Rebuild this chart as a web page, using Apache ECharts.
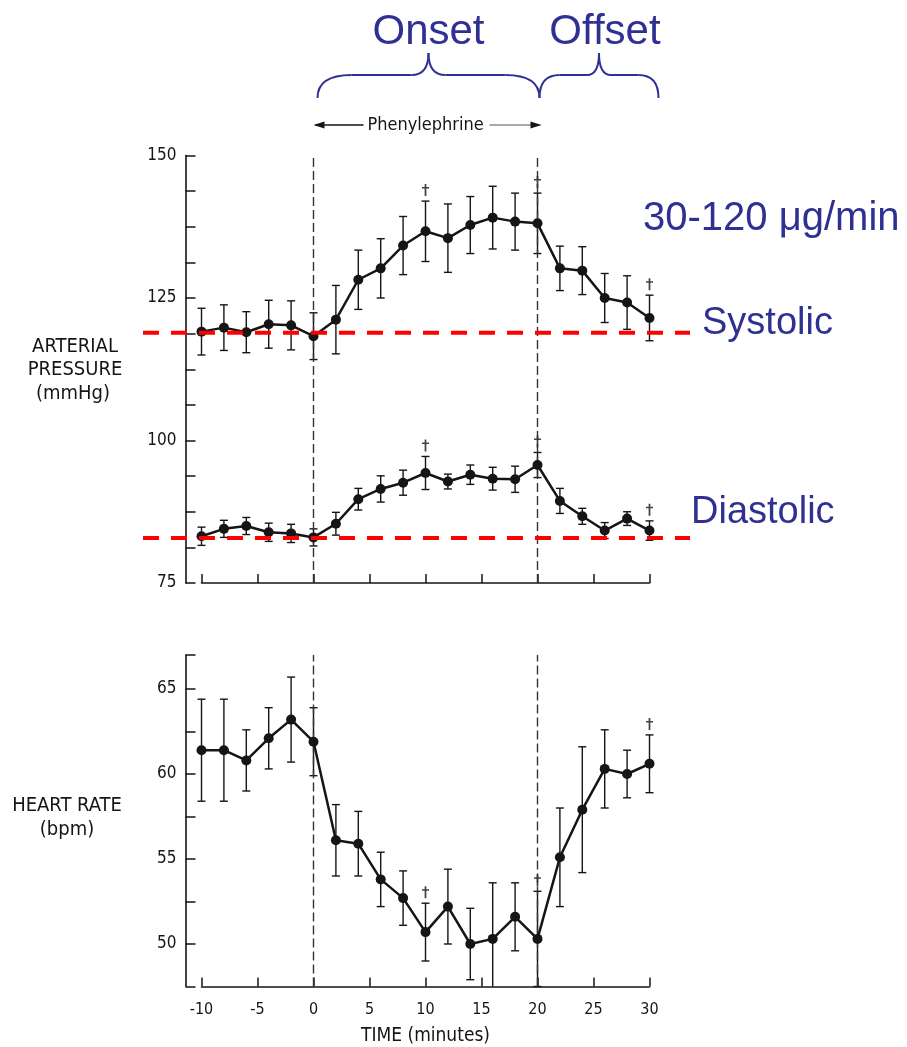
<!DOCTYPE html>
<html>
<head>
<meta charset="utf-8">
<script src="https://cdn.jsdelivr.net/npm/echarts@6/dist/echarts.min.js"></script>
<style>
  html, body { margin: 0; padding: 0; background: #ffffff; }
  #chart { width: 907px; height: 1047px; }
</style>
</head>
<body>
<div id="chart"></div>
<script>
// Time points (minutes relative to start of phenylephrine infusion)
const minutes = [-10, -8, -6, -4, -2, 0, 2, 4, 6, 8, 10, 12, 14, 16, 18, 20, 22, 24, 26, 28, 30];

// Arterial pressure (mmHg), mean and SEM
const systolic = [119.1, 119.8, 119.0, 120.4, 120.2, 118.3, 121.2, 128.2, 130.2, 134.2, 136.7, 135.5, 137.8, 139.1, 138.4, 138.1, 130.2, 129.8, 125.0, 124.2, 121.5];
const systolicSem = [4.1, 4.0, 3.6, 4.2, 4.3, 4.1, 6.0, 5.2, 5.2, 5.1, 5.3, 6.0, 5.0, 5.5, 5.0, 5.3, 3.9, 4.2, 4.3, 4.7, 4.0];
const diastolic = [83.2, 84.5, 85.0, 83.9, 83.7, 83.0, 85.4, 89.7, 91.5, 92.6, 94.3, 92.8, 94.0, 93.3, 93.2, 95.7, 89.4, 86.7, 84.2, 86.3, 84.2];
const diastolicSem = [1.6, 1.5, 1.5, 1.6, 1.6, 1.5, 2.0, 1.9, 2.3, 2.2, 2.9, 1.3, 1.7, 2.0, 2.3, 2.2, 2.2, 1.4, 1.4, 1.2, 1.7];

// Heart rate (bpm), mean and SEM
const heartRate = [61.4, 61.4, 60.8, 62.1, 63.2, 61.9, 56.1, 55.9, 53.8, 52.7, 50.7, 52.2, 50.0, 50.3, 51.6, 50.3, 55.1, 57.9, 60.3, 60.0, 60.6];
const heartRateSem = [3.0, 3.0, 1.8, 1.8, 2.5, 2.0, 2.1, 1.9, 1.6, 1.6, 1.7, 2.2, 2.1, 3.3, 2.0, 2.8, 2.9, 3.7, 2.3, 1.4, 1.7];

// Time points marked as significant (dagger)
const significantMinutes = [10, 20, 30];

// Infusion window
const infusionStart = 0;
const infusionEnd = 20;

// Resting reference levels
const systolicBaseline = 118.9;
const diastolicBaseline = 82.9;

// Labelled ticks
const pressureTicks = [75, 100, 125, 150];
const heartRateTicks = [50, 55, 60, 65];

const INK = '#151515';
const BLUE = '#2e3192';
const FIG_FONT = "'DejaVu Sans Condensed', 'Liberation Sans Narrow', sans-serif";
const SLIDE_FONT = "'Liberation Sans', Arial, sans-serif";

function errorBarItem(params, api) {
  const t = api.value(0), v = api.value(1), e = api.value(2);
  const cs = params.coordSys;
  const top = api.coord([t, v + e]);
  const bot = api.coord([t, v - e]);
  const yTop = Math.max(top[1], cs.y);
  const yBot = Math.min(bot[1], cs.y + cs.height);
  const x = top[0], w = 4;
  const style = { stroke: INK, lineWidth: 1.4 };
  const children = [{ type: 'line', shape: { x1: x, y1: yTop, x2: x, y2: yBot }, style }];
  if (top[1] >= cs.y) children.push({ type: 'line', shape: { x1: x - w, y1: yTop, x2: x + w, y2: yTop }, style });
  if (bot[1] <= cs.y + cs.height) children.push({ type: 'line', shape: { x1: x - w, y1: yBot, x2: x + w, y2: yBot }, style });
  return { type: 'group', children };
}

function meanLine(values, gi, extra) {
  return Object.assign({
    type: 'line', xAxisIndex: gi, yAxisIndex: gi,
    data: minutes.map((t, i) => [t, values[i]]),
    symbol: 'circle', symbolSize: 10, showSymbol: true,
    itemStyle: { color: INK },
    lineStyle: { color: INK, width: 2.5 },
    z: 5
  }, extra || {});
}

function errorBars(values, sem, gi) {
  return {
    type: 'custom', xAxisIndex: gi, yAxisIndex: gi,
    data: minutes.map((t, i) => [t, values[i], sem[i]]),
    encode: { x: 0, y: 1 },
    renderItem: errorBarItem, z: 3, silent: true
  };
}

const DAGGER = 'path://M3,0h2v16h-2z M0,4h8v2h-8z';
function daggers(values, sem, gi) {
  return {
    type: 'scatter', xAxisIndex: gi, yAxisIndex: gi,
    data: significantMinutes.map(t => { const i = minutes.indexOf(t); return [t, values[i] + sem[i]]; }),
    symbol: DAGGER, symbolSize: [7, 12], symbolOffset: [0, -11],
    itemStyle: { color: INK }, z: 4, silent: true
  };
}

const infusionMarks = {
  silent: true, symbol: ['none', 'none'], label: { show: false },
  lineStyle: { type: [9, 4], color: '#333', width: 1.4 },
  emphasis: { disabled: true },
  data: [{ xAxis: infusionStart }, { xAxis: infusionEnd }]
};

function timeAxis(gi, showLabels) {
  return {
    gridIndex: gi, type: 'value', min: -10, max: 30, interval: 5,
    axisLine: { show: true, onZero: false, lineStyle: { color: INK, width: 1.6 } },
    axisTick: { show: true, inside: true, length: 9, lineStyle: { color: INK, width: 1.5 } },
    axisLabel: {
      show: showLabels, margin: 15, fontFamily: FIG_FONT, fontSize: 16, color: INK,
      formatter: v => String(v)
    },
    splitLine: { show: false },
    name: showLabels ? 'TIME (minutes)' : '',
    nameLocation: 'middle', nameGap: 40,
    nameTextStyle: { fontFamily: FIG_FONT, fontSize: 19, color: INK }
  };
}

function valueAxis(gi, min, max, interval, labelled) {
  return {
    gridIndex: gi, type: 'value', min, max, interval, offset: 16,
    axisLine: { show: true, onZero: false, lineStyle: { color: INK, width: 1.6 } },
    axisTick: { show: true, inside: true, length: 10, lineStyle: { color: INK, width: 1.5 } },
    axisLabel: {
      margin: 9, fontFamily: FIG_FONT, fontSize: 17, color: INK,
      formatter: v => labelled.includes(v) ? String(v) : ''
    },
    splitLine: { show: false }
  };
}

const chart = echarts.init(document.getElementById('chart'), null, { renderer: 'canvas' });

chart.setOption({
  animation: false,
  backgroundColor: '#ffffff',
  grid: [
    { left: 201.5, width: 448, top: 155.5, height: 427.5 },
    { left: 201.5, width: 448, top: 655, height: 331.5 }
  ],
  xAxis: [timeAxis(0, false), timeAxis(1, true)],
  yAxis: [
    valueAxis(0, 75, 150, 6.25, pressureTicks),
    valueAxis(1, 47.5, 67, 2.5, heartRateTicks)
  ],
  series: [
    errorBars(systolic, systolicSem, 0),
    errorBars(diastolic, diastolicSem, 0),
    errorBars(heartRate, heartRateSem, 1),
    meanLine(systolic, 0, { markLine: infusionMarks }),
    meanLine(diastolic, 0),
    meanLine(heartRate, 1, { markLine: infusionMarks }),
    daggers(systolic, systolicSem, 0),
    daggers(diastolic, diastolicSem, 0),
    daggers(heartRate, heartRateSem, 1)
  ]
});

// Annotations placed from the axis scales
const px = t => chart.convertToPixel({ xAxisIndex: 0 }, t);
const py = v => chart.convertToPixel({ yAxisIndex: 0 }, v);

// Curly brace built from quadratic curves and straight runs
function brace(x1, x2, r, tipR, yEnd, yBar, yTip) {
  const xm = (x1 + x2) / 2;
  const style = { stroke: BLUE, lineWidth: 2, fill: null };
  const curve = (ax, ay, cx, cy, bx, by) => ({ type: 'bezierCurve', shape: { x1: ax, y1: ay, cpx1: cx, cpy1: cy, x2: bx, y2: by }, style });
  const run = (ax, bx) => ({ type: 'line', shape: { x1: ax, y1: yBar, x2: bx, y2: yBar }, style });
  return {
    type: 'group', z: 120, silent: true,
    children: [
      curve(x1, yEnd, x1, yBar, x1 + r, yBar),
      run(x1 + r, xm - tipR),
      curve(xm - tipR, yBar, xm, yBar, xm, yTip),
      curve(xm, yTip, xm, yBar, xm + tipR, yBar),
      run(xm + tipR, x2 - r),
      curve(x2 - r, yBar, x2, yBar, x2, yEnd)
    ]
  };
}

function slideText(text, x, y, size, align) {
  return { type: 'text', x, y, z: 120,
    style: { text, fontFamily: SLIDE_FONT, fontSize: size, fill: BLUE, align: align || 'center', verticalAlign: 'middle' } };
}
function figText(text, x, y, size) {
  return { type: 'text', x, y, z: 110,
    style: { text, fontFamily: FIG_FONT, fontSize: size, fill: INK, align: 'center', verticalAlign: 'middle' } };
}
function refLine(v) {
  const y = py(v);
  return { type: 'line', z: 130, silent: true,
    shape: { x1: 143, y1: y, x2: 690, y2: y },
    style: { stroke: '#ff0000', lineWidth: 4, lineDash: [16, 12] } };
}
function arrowHead(xTip, y, dir) {
  return { type: 'polygon', z: 110,
    shape: { points: [[xTip, y], [xTip - dir * 11, y - 3.5], [xTip - dir * 11, y + 3.5]] },
    style: { fill: INK } };
}

const xOn = px(infusionStart), xOff = px(infusionEnd), xEnd = px(30);
const onsetL = xOn + 4, onsetR = xOff + 2, offsetR = xEnd + 9;
const arrowY = 125;
const labelX = (xOn + xOff) / 2;

chart.setOption({
  graphic: [
    refLine(systolicBaseline),
    refLine(diastolicBaseline),
    brace(onsetL, onsetR, 34, 17, 98, 75, 53),
    brace(onsetR, offsetR, 20, 12, 98, 75, 53),
    slideText('Onset', (onsetL + onsetR) / 2, 32, 42),
    slideText('Offset', (onsetR + offsetR) / 2 + 6, 32, 42),
    slideText('30-120 \u03bcg/min', 643, 219, 40, 'left'),
    slideText('Systolic', 702, 324, 38, 'left'),
    slideText('Diastolic', 691, 513, 38, 'left'),
    { type: 'line', z: 110, shape: { x1: xOn + 2, y1: arrowY, x2: labelX - 62, y2: arrowY }, style: { stroke: INK, lineWidth: 1.3 } },
    { type: 'line', z: 110, shape: { x1: labelX + 64, y1: arrowY, x2: xOff + 2, y2: arrowY }, style: { stroke: '#555', lineWidth: 1.1 } },
    arrowHead(xOn, arrowY, -1),
    arrowHead(xOff + 4, arrowY, 1),
    figText('Phenylephrine', labelX, arrowY, 18),
    figText('ARTERIAL', 75, 347, 20),
    figText('PRESSURE', 75, 370, 20),
    figText('(mmHg)', 73, 394, 20),
    figText('HEART RATE', 67, 806, 20),
    figText('(bpm)', 67, 830, 20)
  ]
});
</script>
</body>
</html>
